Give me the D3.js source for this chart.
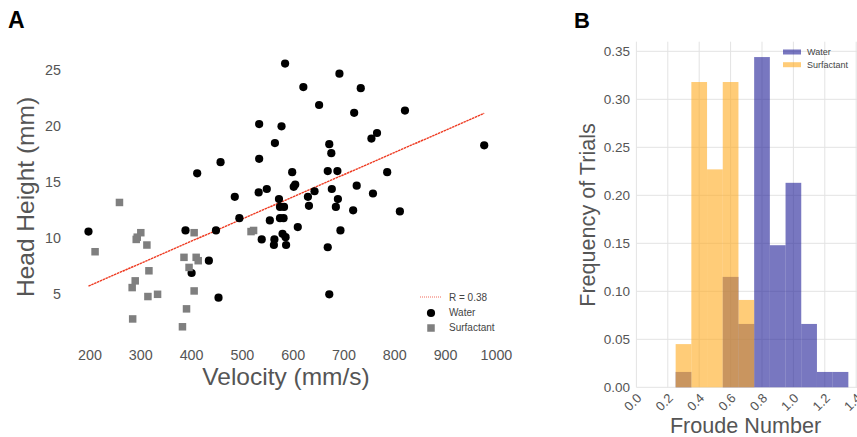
<!DOCTYPE html>
<html>
<head>
<meta charset="utf-8">
<script src="https://cdn.jsdelivr.net/npm/d3@7"></script>
<style>
  body { margin: 0; background: #fff; }
  svg { display: block; font-family: "Liberation Sans", Arial, sans-serif; }
  .tick-label { fill: #555; }
  .axis-title { fill: #555; }
  .panel-label { font-weight: bold; fill: #000; }
  .legend-text { fill: #444; }
  .grid { stroke: #e3e3e3; stroke-width: 1; }
</style>
</head>
<body>
<div id="wrapper"></div>
<script>
// 1. Access data

// panel A: head height vs velocity
const waterVelocity = [
  584, 533, 577, 564, 533, 457, 411, 485, 532, 548, 572, 691, 620, 733, 651,
  720, 820, 765, 754, 671, 675, 976, 598, 668, 687, 785, 604, 601, 642, 676,
  725, 757, 629, 688, 574, 582, 574, 581, 494, 554, 197, 388, 448, 538, 563,
  562, 579, 585, 586, 434, 400, 453, 631, 684, 718, 810, 609, 693, 668, 671
]
const waterHeight = [
  25.6, 20.2, 20.0, 18.5, 17.1, 16.8, 15.8, 13.7, 14.1, 14.4, 13.5, 24.7, 23.5, 23.4, 21.9,
  21.2, 21.4, 19.4, 18.9, 18.4, 17.6, 18.3, 15.9, 16.0, 16.0, 15.9, 14.8, 14.6, 14.2, 14.4,
  14.7, 14.0, 13.7, 13.5, 12.8, 12.8, 11.8, 11.8, 11.8, 11.6, 10.6, 10.7, 10.7, 9.9, 9.9,
  9.4, 10.4, 10.1, 9.4, 8.0, 6.9, 4.7, 12.9, 12.8, 12.5, 12.4, 11.0, 10.7, 9.2, 5.0
]
const surfactantVelocity = [
  258, 210, 300, 293, 291, 312, 316, 289, 283, 314, 333,
  284, 405, 385, 409, 413, 395, 405, 390, 382, 517, 522
]
const surfactantHeight = [
  13.2, 8.8, 10.5, 10.1, 9.9, 9.4, 7.1, 6.2, 5.6, 4.8, 5.0,
  2.8, 10.5, 8.3, 8.3, 8.0, 7.4, 5.3, 3.7, 2.1, 10.6, 10.7
]
const fitSlope = 0.0198
const fitIntercept = 1.83
const fitLabel = "R = 0.38"

const velocityTicks = [200, 300, 400, 500, 600, 700, 800, 900, 1000]
const heightTicks = [5, 10, 15, 20, 25]

// panel B: froude number histograms
const binStarts = [0.25, 0.35, 0.45, 0.55, 0.65, 0.75, 0.85, 0.95, 1.05, 1.15, 1.25]
const binWidth = 0.1
const waterFrequency = [0.016, 0, 0, 0.115, 0.066, 0.344, 0.148, 0.213, 0.066, 0.016, 0.016]
const surfactantFrequency = [0.045, 0.318, 0.227, 0.318, 0.091, 0, 0, 0, 0, 0, 0]

const froudeTicks = [0, 0.2, 0.4, 0.6, 0.8, 1.0, 1.2, 1.4]
const frequencyTicks = [0, 0.05, 0.1, 0.15, 0.2, 0.25, 0.3, 0.35]

const waterColor = "rgba(30, 28, 150, 0.6)"
const surfactantColor = "rgba(255, 170, 30, 0.6)"

// 2. Create chart dimensions

const dimensions = {
  width: 857,
  height: 437,
  scatter: { left: 90, right: 496.4, top: 70.3, bottom: 294.3 },
  hist: { left: 636.4, right: 856.2, top: 41.7, bottom: 387.3 }
}

// 3. Draw canvas

const wrapper = d3.select("#wrapper")
  .append("svg")
    .attr("width", dimensions.width)
    .attr("height", dimensions.height)

// 4. Create scales

const xScale = d3.scaleLinear()
  .domain([200, 1000])
  .range([dimensions.scatter.left, dimensions.scatter.right])

const yScale = d3.scaleLinear()
  .domain([5, 25])
  .range([dimensions.scatter.bottom, dimensions.scatter.top])

const froudeScale = d3.scaleLinear()
  .domain([0, 1.4])
  .range([dimensions.hist.left, dimensions.hist.right])

const freqScale = d3.scaleLinear()
  .domain([0, 0.36])
  .range([dimensions.hist.bottom, dimensions.hist.top])

// 5. Draw data

// panel A
const scatter = wrapper.append("g")

const water = d3.zip(waterVelocity, waterHeight)
const surfactant = d3.zip(surfactantVelocity, surfactantHeight)

const allVelocities = waterVelocity.concat(surfactantVelocity)
const fitExtent = d3.extent(allVelocities)

scatter.append("line")
    .attr("x1", xScale(fitExtent[0]))
    .attr("y1", yScale(fitIntercept + fitSlope * fitExtent[0]))
    .attr("x2", xScale(fitExtent[1]))
    .attr("y2", yScale(fitIntercept + fitSlope * fitExtent[1]))
    .attr("stroke", "#ee3b22")
    .attr("stroke-width", 1.4)
    .attr("stroke-dasharray", "2.5,0.6")

scatter.selectAll(".water-dot")
  .data(water)
  .join("circle")
    .attr("class", "water-dot")
    .attr("cx", d => xScale(d[0]))
    .attr("cy", d => yScale(d[1]))
    .attr("r", 4.1)
    .attr("fill", "#000")

const squareSize = 7.5
scatter.selectAll(".surfactant-dot")
  .data(surfactant)
  .join("rect")
    .attr("class", "surfactant-dot")
    .attr("x", d => xScale(d[0]) - squareSize / 2)
    .attr("y", d => yScale(d[1]) - squareSize / 2)
    .attr("width", squareSize)
    .attr("height", squareSize)
    .attr("fill", "#7f7f7f")

// panel B
const hist = wrapper.append("g")

hist.selectAll(".h-grid")
  .data(frequencyTicks)
  .join("line")
    .attr("class", "grid h-grid")
    .attr("x1", dimensions.hist.left)
    .attr("x2", dimensions.width)
    .attr("y1", d => freqScale(d))
    .attr("y2", d => freqScale(d))

hist.selectAll(".v-grid")
  .data(froudeTicks)
  .join("line")
    .attr("class", "grid v-grid")
    .attr("x1", d => froudeScale(d))
    .attr("x2", d => froudeScale(d))
    .attr("y1", dimensions.hist.top)
    .attr("y2", dimensions.hist.bottom)

const drawBars = (values, color, cls) => hist.selectAll("." + cls)
  .data(binStarts.map((start, i) => ({ start, value: values[i] })).filter(d => d.value > 0))
  .join("rect")
    .attr("class", cls)
    .attr("x", d => froudeScale(d.start))
    .attr("width", d => froudeScale(d.start + binWidth) - froudeScale(d.start))
    .attr("y", d => freqScale(d.value))
    .attr("height", d => freqScale(0) - freqScale(d.value))
    .attr("fill", color)

drawBars(waterFrequency, waterColor, "water-bar")
drawBars(surfactantFrequency, surfactantColor, "surfactant-bar")

// 6. Draw peripherals

wrapper.append("text")
    .attr("class", "panel-label")
    .attr("x", 8)
    .attr("y", 28)
    .style("font-size", "23px")
    .text("A")

wrapper.append("text")
    .attr("class", "panel-label")
    .attr("x", 574)
    .attr("y", 28)
    .style("font-size", "22px")
    .text("B")

// panel A axes (labels only)
wrapper.selectAll(".x-tick")
  .data(velocityTicks)
  .join("text")
    .attr("class", "tick-label x-tick")
    .attr("x", d => xScale(d))
    .attr("y", 360)
    .attr("text-anchor", "middle")
    .style("font-size", "14.3px")
    .text(d => d)

wrapper.selectAll(".y-tick")
  .data(heightTicks)
  .join("text")
    .attr("class", "tick-label y-tick")
    .attr("x", 61)
    .attr("y", d => yScale(d) + 5)
    .attr("text-anchor", "end")
    .style("font-size", "14.3px")
    .text(d => d)

wrapper.append("text")
    .attr("class", "axis-title")
    .attr("x", 286)
    .attr("y", 385)
    .attr("text-anchor", "middle")
    .style("font-size", "24.5px")
    .text("Velocity (mm/s)")

wrapper.append("text")
    .attr("class", "axis-title")
    .attr("transform", "translate(34, 197) rotate(-90)")
    .attr("text-anchor", "middle")
    .style("font-size", "24.5px")
    .text("Head Height (mm)")

// panel A legend
const legendA = wrapper.append("g")
    .attr("transform", "translate(431, 297)")

legendA.append("line")
    .attr("x1", -11)
    .attr("x2", 11)
    .attr("stroke", "#f26b5b")
    .attr("stroke-width", 1)
    .attr("stroke-dasharray", "1,1")
legendA.append("circle")
    .attr("cy", 16)
    .attr("r", 4.1)
    .attr("fill", "#000")
legendA.append("rect")
    .attr("x", -squareSize / 2)
    .attr("y", 31 - squareSize / 2)
    .attr("width", squareSize)
    .attr("height", squareSize)
    .attr("fill", "#7f7f7f")

legendA.selectAll(".legend-text")
  .data([fitLabel, "Water", "Surfactant"])
  .join("text")
    .attr("class", "legend-text")
    .attr("x", 18)
    .attr("y", (d, i) => i * 15 + 3.5)
    .style("font-size", "10px")
    .text(d => d)

// panel B axes
wrapper.selectAll(".f-tick")
  .data(frequencyTicks)
  .join("text")
    .attr("class", "tick-label f-tick")
    .attr("x", 630)
    .attr("y", d => freqScale(d) + 4.5)
    .attr("text-anchor", "end")
    .style("font-size", "13.5px")
    .text(d => d3.format(".2f")(d))

wrapper.selectAll(".fr-tick")
  .data(froudeTicks)
  .join("text")
    .attr("class", "tick-label fr-tick")
    .attr("transform", d => `translate(${froudeScale(d) + 6}, 399) rotate(-45)`)
    .attr("text-anchor", "end")
    .style("font-size", "13px")
    .text(d => d3.format(".1f")(d))

wrapper.append("text")
    .attr("class", "axis-title")
    .attr("x", 745.5)
    .attr("y", 433)
    .attr("text-anchor", "middle")
    .style("font-size", "21.6px")
    .text("Froude Number")

wrapper.append("text")
    .attr("class", "axis-title")
    .attr("transform", "translate(595, 215) rotate(-90)")
    .attr("text-anchor", "middle")
    .style("font-size", "21.6px")
    .text("Frequency of Trials")

// panel B legend
const legendB = wrapper.append("g")
    .attr("transform", "translate(783, 52)")

legendB.selectAll("rect")
  .data([waterColor, surfactantColor])
  .join("rect")
    .attr("x", 0)
    .attr("y", (d, i) => i * 12.7 - 2.5)
    .attr("width", 18)
    .attr("height", 5)
    .attr("fill", d => d)

legendB.selectAll("text")
  .data(["Water", "Surfactant"])
  .join("text")
    .attr("class", "legend-text")
    .attr("x", 24)
    .attr("y", (d, i) => i * 12.7 + 3)
    .style("font-size", "9px")
    .text(d => d)
</script>
</body>
</html>
